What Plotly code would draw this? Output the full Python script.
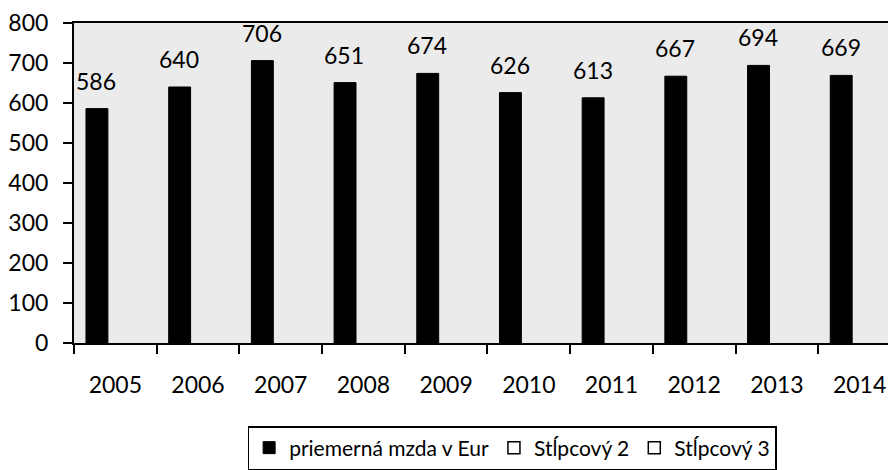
import plotly.graph_objects as go

# data
YEARS = ["2005", "2006", "2007", "2008", "2009", "2010", "2011", "2012", "2013", "2014"]
MZDA = [586, 640, 706, 651, 674, 626, 613, 667, 694, 669]
SERIES_NAMES = ["priemerná mzda v Eur", "Stĺpcový 2", "Stĺpcový 3"]

FONT = "Lato, Open Sans, sans-serif"
BAR_OFFSET = -0.355
BAR_WIDTH = 0.265

fig = go.Figure()
fig.add_trace(go.Bar(
    x=YEARS, y=MZDA, name=SERIES_NAMES[0],
    marker=dict(color="black", line=dict(color="black", width=1)),
    offset=BAR_OFFSET, width=BAR_WIDTH,
))
# the two empty placeholder series only appear in the legend
for nm in SERIES_NAMES[1:]:
    fig.add_trace(go.Bar(
        x=YEARS, y=[None] * len(YEARS), name=nm,
        marker=dict(color="white", line=dict(color="black", width=1.5)),
        offset=BAR_OFFSET, width=BAR_WIDTH,
    ))

# value labels above the bars (category axis -> annotation x is the category index)
for i, v in enumerate(MZDA):
    fig.add_annotation(
        x=i, y=v, text=str(v), showarrow=False,
        xshift=-19, yshift=28, yanchor="middle",
        font=dict(family=FONT, size=23, color="black"),
    )

# the page body has an 8px margin, so the figure is 8px smaller than the window
fig.update_layout(
    width=888, height=462,
    margin=dict(l=63, r=0, t=15, b=127),
    paper_bgcolor="white",
    plot_bgcolor="#ebebeb",
    font=dict(family=FONT, size=23, color="black"),
    barmode="overlay",
    showlegend=True,
    legend=dict(
        orientation="h",
        x=0.533, xanchor="center",
        y=-0.26, yanchor="top",
        bgcolor="white", bordercolor="black", borderwidth=1.5,
        font=dict(family=FONT, size=21, color="black"),
        itemclick=False, itemdoubleclick=False,
    ),
)
fig.update_xaxes(
    type="category", range=[-0.5, 9.44],
    showline=True, linecolor="black", linewidth=2, mirror=True,
    ticks="outside", tickson="boundaries", ticklen=9, tickwidth=2, tickcolor="black",
    ticklabelstandoff=20,
    showgrid=False,
)
fig.update_yaxes(
    range=[0, 800], dtick=100,
    showline=True, linecolor="black", linewidth=2,
    ticks="outside", ticklen=9, tickwidth=2, tickcolor="black",
    ticklabelstandoff=10,
    showgrid=False, zeroline=False,
)

fig.write_html("out.html")
